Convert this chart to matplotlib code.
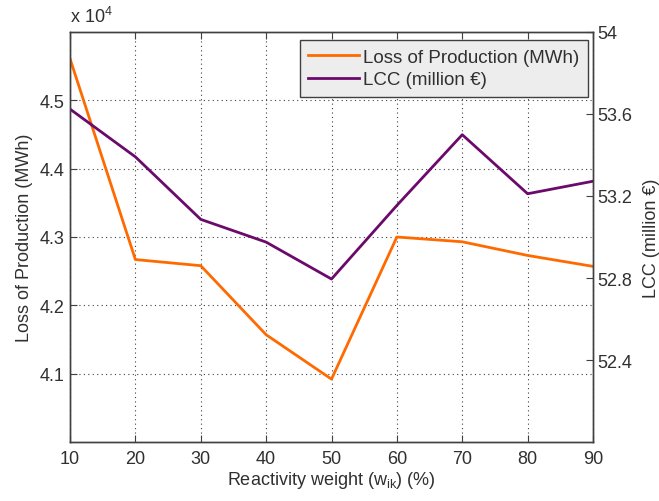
import matplotlib
matplotlib.use("Agg")
import matplotlib.pyplot as plt
from matplotlib.ticker import FixedLocator, FuncFormatter

plt.rcParams['font.family'] = ['Liberation Sans', 'DejaVu Sans']

weights = [10, 20, 30, 40, 50, 60, 70, 80, 90]
loss_production = [4.561, 4.267, 4.258, 4.157, 4.092, 4.300, 4.293, 4.273, 4.257]  # x 10^4 MWh
lcc = [53.624, 53.391, 53.086, 52.975, 52.795, 53.154, 53.499, 53.211, 53.272]  # million EUR
left_ticks = [4.1, 4.2, 4.3, 4.4, 4.5]
right_ticks = [52.4, 52.8, 53.2, 53.6, 54.0]
x_ticks = [10, 20, 30, 40, 50, 60, 70, 80, 90]

orange = '#FF6A00'
purple = '#6B0A6B'
txt = '#303030'
fs = 13

fig = plt.figure(figsize=(6.59, 5.02), dpi=100)
ax = fig.add_axes([70/659, 1-443/502, (593-70)/659, (443-33)/502])
ax2 = ax.twinx()

l1, = ax.plot(weights, loss_production, color=orange, lw=2.0, label='Loss of Production (MWh)')
l2, = ax2.plot(weights, lcc, color=purple, lw=2.0, label='LCC (million €)')

ax.set_xlim(10, 90)
ax.set_ylim(4.0, 4.6)
ax2.set_ylim(52.0, 54.0)
ax.xaxis.set_major_locator(FixedLocator(x_ticks))
ax.yaxis.set_major_locator(FixedLocator(left_ticks))
ax2.yaxis.set_major_locator(FixedLocator(right_ticks))
ax.yaxis.set_major_formatter(FuncFormatter(lambda v, p: f'{v:g}'))
ax2.yaxis.set_major_formatter(FuncFormatter(lambda v, p: f'{v:g}'))

ax.grid(True, linestyle=(0, (1, 3)), color='#404040', lw=0.8)
for a in (ax, ax2):
    for s in a.spines.values():
        s.set_color('#404040')
        s.set_linewidth(1.0)
ax.tick_params(axis='both', direction='in', length=5, color='#404040', labelsize=fs, labelcolor=txt, top=True)
ax.tick_params(axis='x', pad=6)
ax.tick_params(axis='y', pad=4)
ax2.tick_params(axis='y', direction='in', length=5, color='#404040', labelsize=fs, labelcolor=txt, pad=3)

ax.set_xlabel('Reactivity weight (w$_{\\mathregular{ik}}$) (%)', fontsize=fs, color=txt, labelpad=1)
ax.set_ylabel('Loss of Production (MWh)', fontsize=fs, color=txt, labelpad=5)
ax2.set_ylabel('LCC (million €)', fontsize=fs, color=txt, labelpad=8)

fig.text(70/659, 1-17/502, 'x 10$^{\\mathregular{4}}$', fontsize=fs, color=txt, va='center', ha='left')

leg = ax2.legend(handles=[l1, l2], loc='upper right', bbox_to_anchor=(1 - 5/523, 1 - 8/410),
                 fontsize=13.5, frameon=True, fancybox=False, handlelength=2.7,
                 handletextpad=0.25, borderpad=0.45, labelspacing=0.3, borderaxespad=0.0)
leg.get_frame().set_facecolor('#EDEDED')
leg.get_frame().set_edgecolor('#404040')
leg.get_frame().set_linewidth(1.0)
leg.get_frame().set_alpha(1.0)
for t in leg.get_texts():
    t.set_color(txt)

fig.savefig('out.png', dpi=100, facecolor='white')
